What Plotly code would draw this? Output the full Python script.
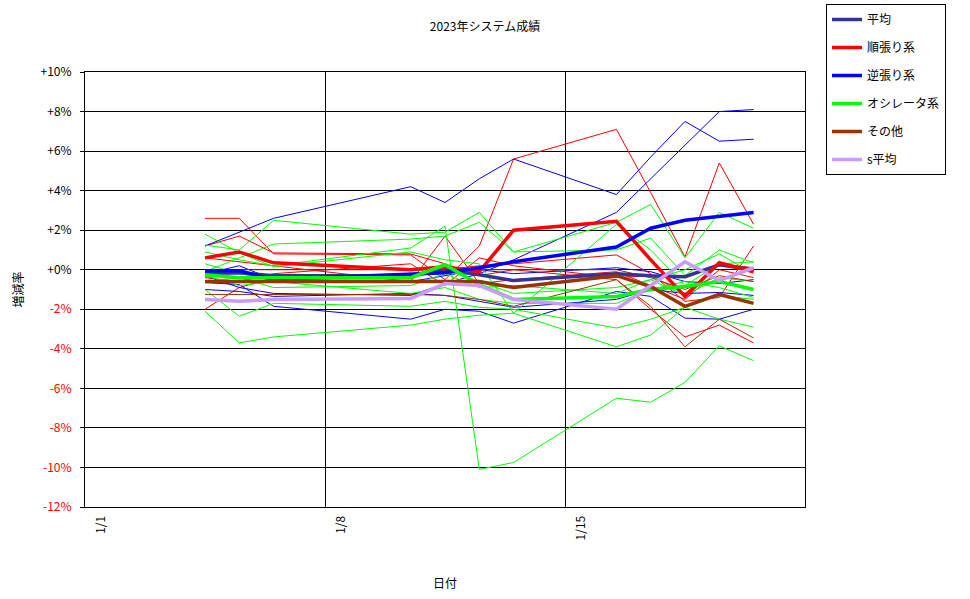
import plotly.graph_objects as go

# ---------------- data ----------------
dates = ["2023-01-04", "2023-01-05", "2023-01-06", "2023-01-10", "2023-01-11", "2023-01-12",
         "2023-01-13", "2023-01-16", "2023-01-17", "2023-01-18", "2023-01-19", "2023-01-20"]

# thick summary series (legend)
avg_all   = [-0.2, -0.15, -0.3, -0.3, 0.0, -0.25, -0.55, -0.2, -0.3, -0.35, 0.25, 0.0]
avg_trend = [0.6, 0.9, 0.35, 0.0, 0.15, -0.1, 2.0, 2.45, 0.5, -1.35, 0.35, -0.1]
avg_contra = [-0.05, -0.05, -0.5, -0.2, -0.15, 0.1, 0.4, 1.15, 2.1, 2.5, 2.7, 2.9]
avg_osc   = [-0.25, -0.4, -0.4, -0.4, 0.25, -0.75, -1.5, -1.35, -1.0, -0.85, -0.6, -1.0]
avg_other = [-0.6, -0.6, -0.6, -0.6, -0.6, -0.6, -0.9, -0.3, -0.85, -1.85, -1.25, -1.7]
avg_s     = [-1.5, -1.6, -1.5, -1.45, -0.7, -0.8, -1.5, -2.0, -0.8, 0.4, -0.55, 0.1]

# thin individual systems
trend_systems = [
    [2.6, 2.6, 0.8, 0.75, -0.5, 1.2, 5.6, 7.1, 3.9, 0.65, 5.4, 2.3],
    [1.2, 1.7, 0.85, 0.8, 0.3, -0.3, 0.0, -0.5, -2.0, -3.4, -2.8, -3.7],
    [-2.0, -0.9, -0.4, -0.2, 0.0, 0.2, 0.3, 0.75, -0.2, -1.6, -1.4, 1.2],
    [-0.4, -0.6, -0.2, 0.3, -0.8, 0.6, 0.2, -0.4, -0.3, -1.2, 0.3, 0.1],
    [0.6, 0.4, 0.2, -0.6, 1.7, -0.7, -0.5, -0.1, -0.8, -1.5, 0.0, -0.4],
]
contra_systems = [
    [1.2, 1.9, 2.6, 4.2, 3.4, 4.6, 5.6, 3.8, 5.7, 7.5, 6.5, 6.6],
    [-0.3, -0.9, -1.2, -1.3, -0.7, -0.2, 0.5, 2.9, 4.6, 6.3, 8.0, 8.1],
    [-0.65, -0.75, -1.85, -2.5, -2.0, -2.1, -2.7, -1.1, -1.35, -2.45, -2.5, -2.0],
    [-1.0, -1.1, -1.35, -1.2, -1.3, -1.6, -1.9, -1.5, -1.0, -1.2, -1.15, -1.3],
    [-0.2, 0.2, -0.5, -0.6, -0.3, 0.0, -0.2, 0.1, -0.1, -0.6, -0.7, -0.5],
]
osc_systems = [
    [1.25, 1.0, 2.5, 1.8, 1.9, 2.9, 0.9, 2.4, 3.3, 0.6, 2.9, 2.1],
    [-0.1, 0.6, 1.3, 1.55, 1.7, 2.4, 0.9, 1.0, 1.6, -0.3, 1.0, 0.35],
    [0.9, 0.5, 0.2, 1.1, 2.2, -10.1, -9.75, -6.5, -6.7, -5.7, -3.85, -4.6],
    [1.8, 0.85, 0.15, 0.9, 0.5, 0.3, -2.2, 2.3, 1.0, -0.8, 0.3, 0.4],
    [-1.0, -2.35, -1.7, -1.85, -1.6, -1.9, -2.0, -2.95, -2.5, -1.9, -2.5, -2.9],
    [-2.1, -3.7, -3.4, -2.8, -2.5, -2.3, -2.2, -3.9, -3.3, -1.9, -1.3, -1.5],
    [-0.3, -0.8, -0.6, -1.2, -0.9, -1.5, -1.7, -1.7, -1.0, -0.6, -0.9, -1.4],
    [0.3, -0.2, -0.5, -0.4, 0.0, -0.6, -1.2, -0.9, -0.5, -1.3, -0.4, -0.6],
    [-0.6, -0.4, -0.9, -0.8, -0.2, -0.9, -0.8, -1.2, -0.5, 0.0, 0.8, -0.2],
]
other_systems = [
    [0.0, 0.0, 0.0, 0.0, 0.0, 0.0, 0.0, 0.0, -0.4, -1.0, -0.3, -0.6],
    [-1.25, -1.25, -1.25, -1.25, -1.3, -1.5, -1.85, -0.5, -1.85, -3.9, -2.5, -3.45],
]

y_ticks = list(range(-12, 11, 2))
y_tick_text = [f"+{v}%" if v >= 0 else f"<span style='color:#ff0000'>{v}%</span>" for v in y_ticks]
x_ticks = ["2023-01-01", "2023-01-08", "2023-01-15"]
x_tick_text = ["1/1", "1/8", "1/15"]

# ---------------- figure ----------------
xs = [d + " 12:00" for d in dates]
fig = go.Figure()

thin_groups = [
    (trend_systems, "#ff0000"),
    (contra_systems, "#0000ff"),
    (osc_systems, "#00ff00"),
    (other_systems, "#993300"),
]
for series_list, col in thin_groups:
    for s in series_list:
        fig.add_trace(go.Scatter(x=xs, y=s, mode="lines", line=dict(color=col, width=1),
                                 showlegend=False, hoverinfo="skip"))

thick = [
    ("平均", avg_all, "#333399"),
    ("順張り系", avg_trend, "#ff0000"),
    ("逆張り系", avg_contra, "#0000ff"),
    ("オシレータ系", avg_osc, "#00ff00"),
    ("その他", avg_other, "#993300"),
    ("s平均", avg_s, "#cc99ff"),
]
for i, (name, s, col) in enumerate(thick):
    fig.add_trace(go.Scatter(x=xs, y=s, mode="lines", name=name, legendgroup=f"g{i}",
                             line=dict(color=col, width=3.5)))

font_family = "Noto Sans CJK JP, sans-serif"
fig.update_layout(
    width=970, height=599,
    margin=dict(l=85, r=165, t=72, b=92, autoexpand=False),
    paper_bgcolor="white", plot_bgcolor="white",
    font=dict(family=font_family, size=12, color="black"),
    title=dict(text="2023年システム成績", x=0.5, xanchor="center", y=0.955, yanchor="middle",
               font=dict(size=12, color="black")),
    legend=dict(xref="container", yref="container", x=826 / 970, y=1 - 4 / 599,
                xanchor="left", yanchor="top", bordercolor="black", borderwidth=1,
                bgcolor="white", font=dict(size=12), tracegroupgap=9, itemwidth=30),
    showlegend=True,
)
fig.update_xaxes(
    type="date", range=["2023-01-01", "2023-01-22"],
    tickmode="array", tickvals=x_ticks, ticktext=x_tick_text, tickangle=-90,
    ticklabelshift=16, ticklabelstandoff=3, ticks="", automargin=False,
    showgrid=True, gridcolor="black", gridwidth=1,
    showline=True, linecolor="black", linewidth=1, mirror=True,
    title=dict(text="日付", standoff=40, font=dict(size=12)),
    zeroline=False,
)
fig.update_yaxes(
    range=[-12, 10], tickmode="array", tickvals=y_ticks, ticktext=y_tick_text,
    ticks="outside", ticklen=4, tickcolor="black", ticklabelstandoff=6, automargin=False,
    showgrid=True, gridcolor="black", gridwidth=1,
    showline=True, linecolor="black", linewidth=1, mirror=True,
    zeroline=False,
    title=dict(text="増減率", standoff=14, font=dict(size=12)),
)

fig.write_html("out.html")
